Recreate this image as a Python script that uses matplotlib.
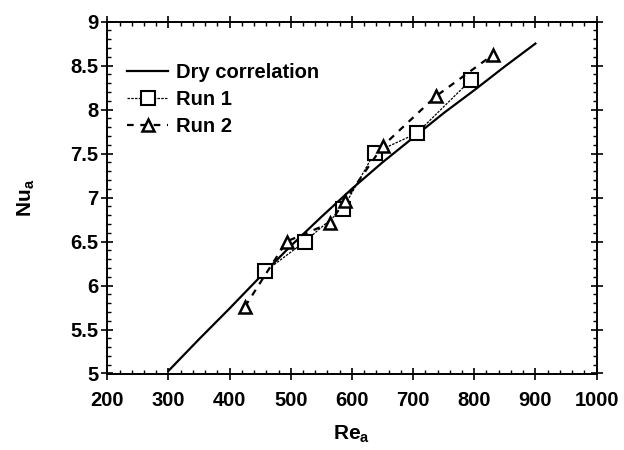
import matplotlib
matplotlib.use("Agg")
import matplotlib.pyplot as plt
from matplotlib.ticker import MultipleLocator

# Data
dry_re = [300, 325, 350, 375, 400, 450, 500, 550, 600, 650, 700, 750, 800, 850, 900]
dry_nu = [5.03, 5.21, 5.39, 5.565, 5.74, 6.10, 6.45, 6.78, 7.10, 7.40, 7.68, 7.96, 8.22, 8.49, 8.75]

run1_re = [458, 523, 585, 637, 706, 795]
run1_nu = [6.16, 6.50, 6.87, 7.51, 7.73, 8.34]

run2_re = [425, 493, 564, 588, 651, 737, 830]
run2_nu = [5.76, 6.50, 6.71, 6.96, 7.59, 8.15, 8.62]

xticks = [200, 300, 400, 500, 600, 700, 800, 900, 1000]
yticks = [5, 5.5, 6, 6.5, 7, 7.5, 8, 8.5, 9]
ytick_labels = ["5", "5.5", "6", "6.5", "7", "7.5", "8", "8.5", "9"]

plt.rcParams['font.family'] = ['Liberation Sans', 'DejaVu Sans']

fig = plt.figure(figsize=(6.24, 4.5), dpi=100)
ax = fig.add_axes([0.172, 0.170, 0.784, 0.782])

ax.plot(dry_re, dry_nu, color='black', lw=1.6, label='Dry correlation')
ax.plot(run1_re, run1_nu, color='black', lw=0.9, ls=(0, (2, 1)),
        marker='s', ms=10, mfc='white', mec='black', mew=1.5, label='Run 1')
ax.plot(run2_re, run2_nu, color='black', lw=1.6, ls=(0, (3, 3)),
        marker='^', ms=9, mfc='white', mec='black', mew=1.8, label='Run 2')

ax.set_xlim(200, 1000)
ax.set_ylim(5, 9)
ax.set_xticks(xticks)
ax.set_yticks(yticks)
ax.set_yticklabels(ytick_labels)
ax.xaxis.set_minor_locator(MultipleLocator(20))
ax.yaxis.set_minor_locator(MultipleLocator(0.1))
ax.tick_params(which='major', direction='inout', length=9, width=1.2,
               top=True, right=True, labelsize=14.5)
ax.tick_params(axis='x', which='major', pad=8)
ax.tick_params(axis='y', which='major', pad=2)
ax.tick_params(which='minor', direction='in', length=3, width=1.0,
               top=True, right=True)
for lbl in ax.get_xticklabels() + ax.get_yticklabels():
    lbl.set_fontweight('bold')
for sp in ax.spines.values():
    sp.set_linewidth(1.4)

ax.set_xlabel(r'Re$_\mathregular{a}$', fontsize=15, fontweight='bold', labelpad=10)
ax.set_ylabel(r'Nu$_\mathregular{a}$', fontsize=15, fontweight='bold', labelpad=24)

leg = ax.legend(loc='upper left', bbox_to_anchor=(0.0, 0.94), frameon=False,
                fontsize=14.5, handlelength=2.0, handletextpad=0.4,
                labelspacing=0.4, borderaxespad=0.6)
for t in leg.get_texts():
    t.set_fontweight('bold')

fig.savefig('out.png', dpi=100)
